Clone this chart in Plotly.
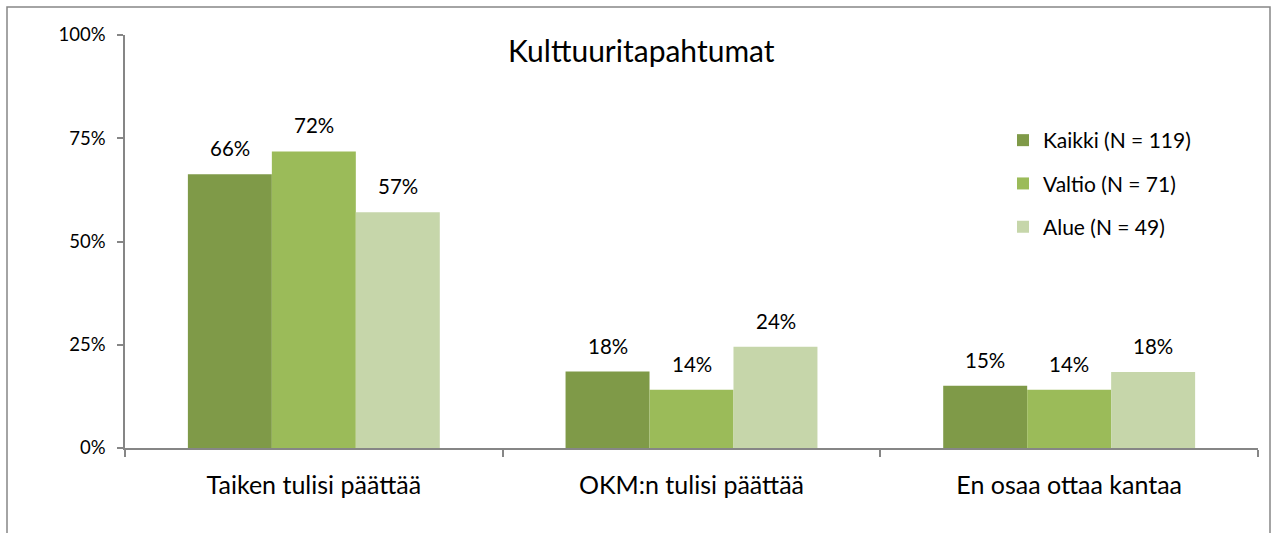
import plotly.graph_objects as go

categories = ["Taiken tulisi päättää", "OKM:n tulisi päättää", "En osaa ottaa kantaa"]
series_names = ["Kaikki (N = 119)", "Valtio (N = 71)", "Alue (N = 49)"]
kaikki = [66.3, 18.5, 15.1]
valtio = [71.8, 14.1, 14.1]
alue = [57.1, 24.5, 18.4]
label_kaikki = ["66%", "18%", "15%"]
label_valtio = ["72%", "14%", "14%"]
label_alue = ["57%", "24%", "18%"]
colors = ["#7F9A48", "#9BBB59", "#C6D6AA"]
y_ticks = [0, 25, 50, 75, 100]
y_tick_text = ["0%", "25%", "50%", "75%", "100%"]

values = [kaikki, valtio, alue]
labels = [label_kaikki, label_valtio, label_alue]

FONT = "Lato, Carlito, Calibri, sans-serif"

fig = go.Figure()
for i, (name, vals, col) in enumerate(zip(series_names, values, colors)):
    fig.add_trace(go.Bar(
        x=categories, y=vals, name=name, marker=dict(color=col, line=dict(width=0)),
        legendgroup=f"g{i}",
    ))

annotations = []
for i, (vals, labs) in enumerate(zip(values, labels)):
    for c, v, t in zip(categories, vals, labs):
        annotations.append(dict(
            x=c, y=v, xref="x", yref="y", text=t, showarrow=False,
            xshift=(i - 1) * 84, yshift=26, yanchor="middle",
            font=dict(family=FONT, size=20.5, color="#000000"),
        ))

annotations.append(dict(
    text="Kulttuuritapahtumat", xref="paper", yref="paper",
    x=(641 - 125) / 1133, y=(448 - 50) / 413, showarrow=False,
    xanchor="center", yanchor="middle",
    font=dict(family=FONT, size=30, color="#000000"),
))

fig.update_layout(
    width=1275, height=533,
    margin=dict(l=125, r=17, t=35, b=85),
    paper_bgcolor="white", plot_bgcolor="white",
    barmode="group", bargap=0.333, bargroupgap=0,
    font=dict(family=FONT, size=20, color="#000000"),
    showlegend=True,
    legend=dict(
        x=(1003 - 125) / 1133, y=(448 - 120) / 413, xanchor="left", yanchor="top",
        font=dict(family=FONT, size=21, color="#000000"),
        tracegroupgap=13, itemwidth=30, bgcolor="rgba(0,0,0,0)",
    ),
    annotations=annotations,
    shapes=[dict(
        type="rect", xref="paper", yref="paper",
        x0=(7 - 125) / 1133, x1=(1270 - 125) / 1133,
        y0=-0.3, y1=(448 - 7) / 413,
        line=dict(color="#868686", width=1.5), fillcolor="rgba(0,0,0,0)", layer="below",
    )],
)

fig.update_xaxes(
    showline=True, linecolor="#868686", linewidth=1.5,
    ticks="outside", tickson="boundaries", ticklen=7, tickcolor="#868686", tickwidth=1.5,
    tickfont=dict(family=FONT, size=25, color="#000000"),
    ticklabelstandoff=14,
    showgrid=False, zeroline=False,
)
fig.update_yaxes(
    range=[0, 100], tickvals=y_ticks, ticktext=y_tick_text,
    showline=True, linecolor="#868686", linewidth=1.5,
    ticks="outside", ticklen=6, tickcolor="#868686", tickwidth=1.5,
    tickfont=dict(family=FONT, size=18.5, color="#000000"),
    ticklabelstandoff=8,
    showgrid=False, zeroline=False,
)

fig.write_html("out.html", config={"displayModeBar": False},
               post_script="document.body.style.margin='0';")
